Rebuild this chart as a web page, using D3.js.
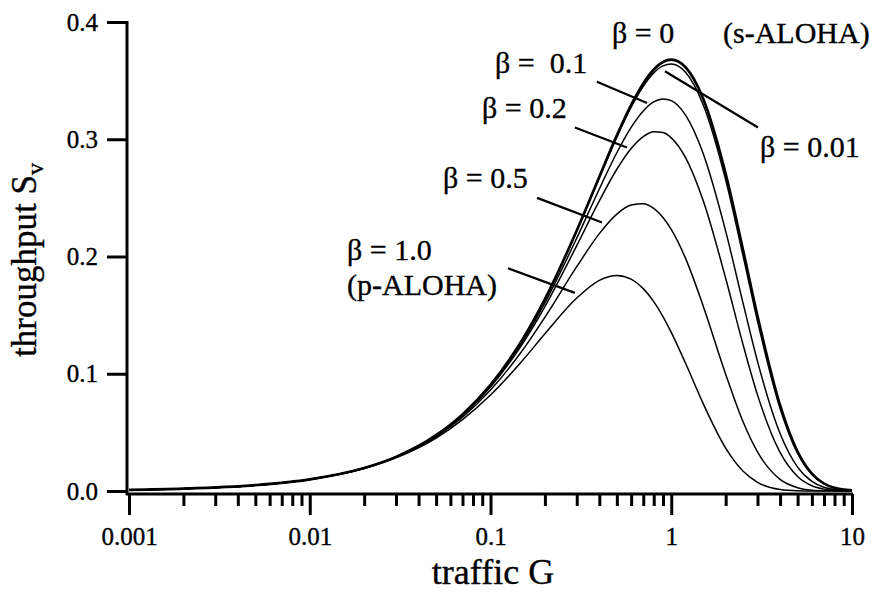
<!DOCTYPE html>
<html>
<head>
<meta charset="utf-8">
<script src="https://cdn.jsdelivr.net/npm/d3@7"></script>
<style>
  html, body { margin: 0; padding: 0; background: #fff; }
  svg text { font-family: "Liberation Serif", "Times New Roman", serif; fill: #000; stroke: #000; stroke-width: 0.35px; }
</style>
</head>
<body>
<svg id="chart" width="883" height="593"></svg>
<script>
// ---- data ----
const trafficG = [0.001, 0.002, 0.005, 0.01, 0.02, 0.03, 0.05, 0.07, 0.1, 0.15, 0.2, 0.3, 0.4, 0.5, 0.6, 0.7, 0.8, 0.9, 1.0, 1.2, 1.5, 2, 2.5, 3, 4, 5, 6, 7, 8, 10];
const betaLabels = ["0", "0.01", "0.1", "0.2", "0.5", "1.0"];
const sBeta0   = [0.0010, 0.0020, 0.0050, 0.0099, 0.0196, 0.0291, 0.0476, 0.0653, 0.0905, 0.1291, 0.1637, 0.2222, 0.2681, 0.3033, 0.3293, 0.3476, 0.3595, 0.3659, 0.3679, 0.3614, 0.3347, 0.2707, 0.2052, 0.1494, 0.0733, 0.0337, 0.0149, 0.0064, 0.0027, 0.0005];
const sBeta001 = [0.0010, 0.0020, 0.0050, 0.0099, 0.0196, 0.0291, 0.0475, 0.0652, 0.0904, 0.1289, 0.1634, 0.2216, 0.2670, 0.3018, 0.3273, 0.3452, 0.3566, 0.3626, 0.3642, 0.3571, 0.3297, 0.2653, 0.2002, 0.1450, 0.0704, 0.0320, 0.0140, 0.0060, 0.0025, 0.0004];
const sBeta01  = [0.0010, 0.0020, 0.0050, 0.0099, 0.0196, 0.0290, 0.0473, 0.0648, 0.0896, 0.1272, 0.1605, 0.2157, 0.2576, 0.2885, 0.3101, 0.3241, 0.3318, 0.3344, 0.3329, 0.3205, 0.2880, 0.2216, 0.1598, 0.1106, 0.0491, 0.0204, 0.0082, 0.0032, 0.0012, 0.0002];
const sBeta02  = [0.0010, 0.0020, 0.0050, 0.0099, 0.0195, 0.0289, 0.0471, 0.0644, 0.0887, 0.1253, 0.1573, 0.2093, 0.2475, 0.2744, 0.2921, 0.3022, 0.3063, 0.3057, 0.3012, 0.2843, 0.2479, 0.1814, 0.1245, 0.0820, 0.0329, 0.0124, 0.0045, 0.0016, 0.0005, 0.0001];
const sBeta05  = [0.0010, 0.0020, 0.0050, 0.0099, 0.0194, 0.0287, 0.0464, 0.0630, 0.0861, 0.1198, 0.1482, 0.1913, 0.2195, 0.2362, 0.2439, 0.2450, 0.2410, 0.2333, 0.2231, 0.1984, 0.1581, 0.0996, 0.0588, 0.0333, 0.0099, 0.0028, 0.0007, 0.0002, 0.0001, 0.0000];
const sBeta10  = [0.0010, 0.0020, 0.0050, 0.0098, 0.0192, 0.0283, 0.0452, 0.0609, 0.0819, 0.1111, 0.1341, 0.1646, 0.1797, 0.1839, 0.1807, 0.1726, 0.1615, 0.1488, 0.1353, 0.1089, 0.0747, 0.0366, 0.0168, 0.0074, 0.0013, 0.0002, 0.0000, 0.0000, 0.0000, 0.0000];
const seriesValues = [sBeta0, sBeta001, sBeta01, sBeta02, sBeta05, sBeta10];
const xMajorTicks = [0.001, 0.01, 0.1, 1, 10];
const xTickLabels = ["0.001", "0.01", "0.1", "1", "10"];
const yTicks = [0.0, 0.1, 0.2, 0.3, 0.4];
const xTitle = "traffic G";
const yTitle = "throughput S";
const yTitleSub = "v";

// ---- layout ----
const FONT = "'Liberation Serif', 'Times New Roman', serif";
const svg = d3.select("#chart");
const axisX = 127, axisY = 494;
const x = d3.scaleLog().domain([0.001, 10]).range([129, 852]);
const y = d3.scaleLinear().domain([0, 0.4]).range([491, 22]);

// curves
const line = d3.line()
  .x(d => x(d[0]))
  .y(d => y(d[1]))
  .curve(d3.curveMonotoneX);

seriesValues.forEach((vals, i) => {
  svg.append("path")
    .datum(trafficG.map((g, j) => [g, vals[j]]))
    .attr("d", line)
    .attr("fill", "none")
    .attr("stroke", "#000")
    .attr("stroke-width", i === 0 ? 2.6 : 1.5)
    .attr("stroke-linejoin", "round");
});

// axes lines
svg.append("line").attr("x1", axisX).attr("x2", axisX)
  .attr("y1", y(0.4) - 1).attr("y2", axisY + 1)
  .attr("stroke", "#000").attr("stroke-width", 3);
svg.append("line").attr("x1", axisX - 1).attr("x2", x(10) + 1)
  .attr("y1", axisY).attr("y2", axisY)
  .attr("stroke", "#000").attr("stroke-width", 3);

// y axis
const yAxis = d3.axisLeft(y).tickValues(yTicks).tickSize(20).tickSizeOuter(0)
  .tickPadding(9).tickFormat(d3.format(".1f"));
const gy = svg.append("g").attr("transform", `translate(${axisX},0)`).call(yAxis);
gy.attr("font-family", FONT);
gy.select(".domain").remove();
gy.selectAll(".tick line").attr("stroke", "#000").attr("stroke-width", 3);
gy.selectAll(".tick text").style("font-size", "25px").style("font-family", FONT);

// x axis majors
const xAxis = d3.axisBottom(x).tickValues(xMajorTicks).tickSize(21).tickSizeOuter(0)
  .tickPadding(12).tickFormat((d, i) => xTickLabels[i]);
const gx = svg.append("g").attr("transform", `translate(0,${axisY})`).call(xAxis);
gx.attr("font-family", FONT);
gx.select(".domain").remove();
gx.selectAll(".tick line").attr("stroke", "#000").attr("stroke-width", 3);
gx.selectAll(".tick text").style("font-size", "25px").style("font-family", FONT);

// x axis minors
const minorTicks = [];
xMajorTicks.slice(0, -1).forEach(m => { for (let k = 2; k <= 9; k++) minorTicks.push(m * k); });
const xMinor = d3.axisBottom(x).tickValues(minorTicks).tickSize(12).tickSizeOuter(0).tickFormat("");
const gxm = svg.append("g").attr("transform", `translate(0,${axisY})`).call(xMinor);
gxm.select(".domain").remove();
gxm.selectAll(".tick line").attr("stroke", "#000").attr("stroke-width", 3);

// titles
svg.append("text").attr("x", 493).attr("y", 584).attr("text-anchor", "middle")
  .style("font-family", FONT).style("font-size", "36px").text(xTitle);
const yt = svg.append("text").attr("transform", "translate(36,260) rotate(-90)")
  .attr("text-anchor", "middle").style("font-family", FONT).style("font-size", "35px");
yt.append("tspan").text(yTitle);
yt.append("tspan").attr("dy", "0.3em").style("font-size", "24px").text(yTitleSub);

// annotations: text (pixel layout) and leader lines (data coords)
const annText = [
  { t: "\u03B2 = 0", px: 612, py: 43 },
  { t: "(s-ALOHA)", px: 723, py: 43 },
  { t: "\u03B2 =  0.1", px: 495, py: 73 },
  { t: "\u03B2 = 0.2", px: 482, py: 118 },
  { t: "\u03B2 = 0.01", px: 760, py: 157 },
  { t: "\u03B2 = 0.5", px: 443, py: 188 },
  { t: "\u03B2 = 1.0", px: 347, py: 260 },
  { t: "(p-ALOHA)", px: 347, py: 295 }
];
annText.forEach(a => {
  svg.append("text").attr("x", a.px).attr("y", a.py)
    .style("font-family", FONT)
    .style("font-size", "30px").style("white-space", "pre").attr("xml:space", "preserve").text(a.t);
});
const leaders = [
  [[0.388, 0.349], [0.734, 0.331]],
  [[0.293, 0.310], [0.569, 0.293]],
  [[0.923, 0.358], [3.02, 0.310]],
  [[0.181, 0.250], [0.414, 0.229]],
  [[0.125, 0.190], [0.293, 0.169]]
];
leaders.forEach(l => {
  svg.append("line")
    .attr("x1", x(l[0][0])).attr("y1", y(l[0][1]))
    .attr("x2", x(l[1][0])).attr("y2", y(l[1][1]))
    .attr("stroke", "#000").attr("stroke-width", 2.2);
});
</script>
</body>
</html>
